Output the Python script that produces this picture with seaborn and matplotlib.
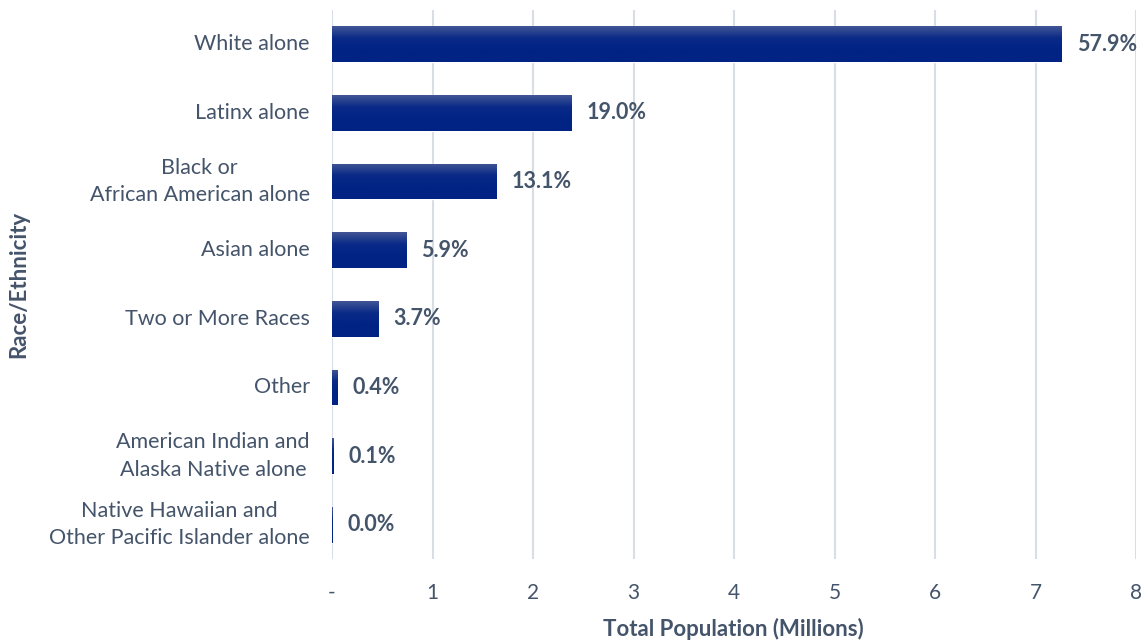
import numpy as np
import pandas as pd
import matplotlib
matplotlib.use("Agg")
import matplotlib.pyplot as plt
import seaborn as sns
from matplotlib.colors import LinearSegmentedColormap

categories = ["White alone", "Latinx alone", "Black or\nAfrican American alone", "Asian alone",
              "Two or More Races", "Other", "American Indian and\nAlaska Native alone",
              "Native Hawaiian and\nOther Pacific Islander alone"]
population_millions = [7.26, 2.38, 1.64, 0.74, 0.46, 0.05, 0.012, 0.004]
percent_labels = ["57.9%", "19.0%", "13.1%", "5.9%", "3.7%", "0.4%", "0.1%", "0.0%"]
x_ticks = [0, 1, 2, 3, 4, 5, 6, 7, 8]
x_tick_labels = ["-", "1", "2", "3", "4", "5", "6", "7", "8"]

sns.set_theme(style="white")
plt.rcParams['font.family'] = ['Lato', 'DejaVu Sans']
text_color = "#44546A"

df = pd.DataFrame({"cat": categories, "pop": population_millions})

fig = plt.figure(figsize=(11.43, 6.4), dpi=100)
ax = fig.add_axes([332 / 1143, 1 - 559 / 640, (1136 - 332) / 1143, (559 - 10) / 640])

sns.barplot(data=df, y="cat", x="pop", orient="h", color="#002384", width=0.52, ax=ax, zorder=3)

# gradient overlay
grad = np.linspace(0, 1, 100).reshape(-1, 1)
cmap = LinearSegmentedColormap.from_list("g", ["#425696", "#0a2a88", "#002384", "#002384"])
for p in ax.patches:
    x0, y0 = p.get_x(), p.get_y()
    w, h = p.get_width(), p.get_height()
    im = ax.imshow(grad, extent=[x0, x0 + w, y0 + h, y0], aspect="auto", cmap=cmap,
                   zorder=4, origin="upper")
    im.set_clip_path(p)

ax.set_xlim(0, 8)
ax.set_ylim(7.5, -0.5)
ax.set_xticks(x_ticks)
ax.set_xticklabels(x_tick_labels, color=text_color, fontsize=15)
ax.tick_params(axis="x", length=0, pad=17)
ax.tick_params(axis="y", length=0, pad=16)
for lab in ax.get_yticklabels():
    lab.set_multialignment("center")
    lab.set_verticalalignment("center")
    lab.set_color(text_color)
    lab.set_fontsize(15.5)
    lab.set_linespacing(1.45)

ax.grid(axis="x", color="#D9DDE6", linewidth=1.5, zorder=0)
ax.grid(axis="y", visible=False)
for s in ax.spines.values():
    s.set_visible(False)

for i, (v, t) in enumerate(zip(population_millions, percent_labels)):
    ax.text(v + 0.15, i, t, va="center", ha="left", fontsize=15.5, fontweight="bold",
            color=text_color, zorder=5)

ax.set_xlabel("Total Population (Millions)", fontsize=16, fontweight="bold", color=text_color)
ax.set_ylabel("Race/Ethnicity", fontsize=16, fontweight="bold", color=text_color)
ax.xaxis.set_label_coords(0.499, -0.107)
ax.yaxis.set_label_coords(-0.376, 0.5)

fig.savefig("out.png", dpi=100)
